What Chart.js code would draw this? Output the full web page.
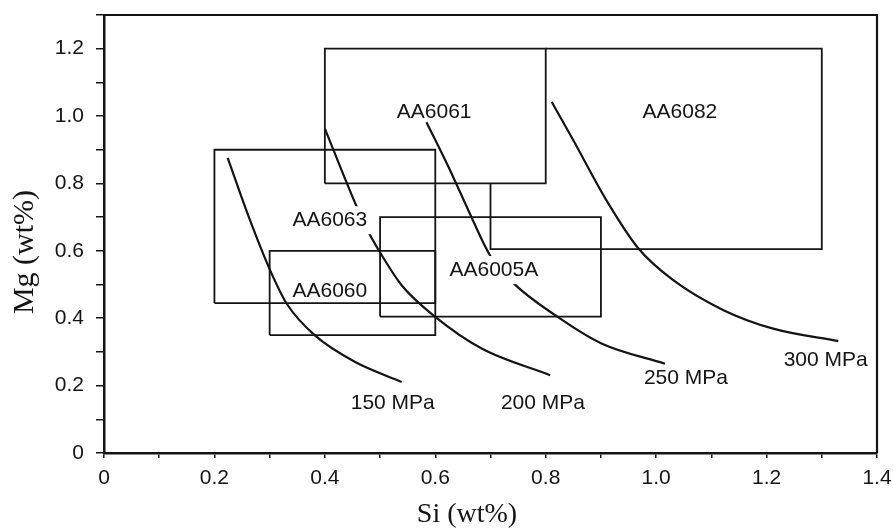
<!DOCTYPE html>
<html>
<head>
<meta charset="utf-8">
<script src="https://cdn.jsdelivr.net/npm/chart.js@4.4.0/dist/chart.umd.min.js"></script>
<style>
  html, body { margin: 0; padding: 0; background: #fff; }
</style>
</head>
<body>
<canvas id="grafico" width="893" height="532"></canvas>
<script>
// Cajas de composición (Si, Mg en wt%), contorno de cada aleación
const aleaciones = ['AA6060', 'AA6063', 'AA6005A', 'AA6061', 'AA6082'];
const contornoSi = [
  [0.3, 0.6, 0.6, 0.3, 0.3],
  [0.2, 0.6, 0.6, 0.2, 0.2],
  [0.5, 0.9, 0.9, 0.5, 0.5],
  [0.4, 0.8, 0.8, 0.4, 0.4],
  [0.7, 0.7, 1.3, 1.3, 0.8]
];
const contornoMg = [
  [0.35, 0.35, 0.6, 0.6, 0.35],
  [0.445, 0.445, 0.9, 0.9, 0.445],
  [0.405, 0.405, 0.7, 0.7, 0.405],
  [0.8, 0.8, 1.2, 1.2, 0.8],
  [0.8, 0.605, 0.605, 1.2, 1.2]
];

// Curvas de resistencia
const si150 = [0.224, 0.261, 0.301, 0.331, 0.382, 0.455, 0.539];
const mg150 = [0.876, 0.706, 0.542, 0.443, 0.349, 0.270, 0.211];
const si200 = [0.400, 0.458, 0.479, 0.503, 0.539, 0.600, 0.684, 0.808];
const mg200 = [0.963, 0.730, 0.656, 0.587, 0.498, 0.404, 0.310, 0.231];
const si250 = [0.584, 0.624, 0.660, 0.699, 0.741, 0.817, 0.901, 1.016];
const mg250 = [0.982, 0.849, 0.720, 0.587, 0.505, 0.409, 0.325, 0.265];
const si300 = [0.811, 0.850, 0.910, 0.968, 1.031, 1.122, 1.212, 1.330];
const mg300 = [1.042, 0.928, 0.750, 0.607, 0.513, 0.424, 0.369, 0.332];

// Etiquetas de ejes
const xTickLabels = ['0', '0.2', '0.4', '0.6', '0.8', '1.0', '1.2', '1.4'];
const yTickLabels = ['0', '0.2', '0.4', '0.6', '0.8', '1.0', '1.2'];

// Textos dentro del gráfico
const textos = ['AA6061', 'AA6082', 'AA6063', 'AA6060', 'AA6005A', '150 MPa', '200 MPa', '250 MPa', '300 MPa'];
const textoSi = [0.598, 1.043, 0.409, 0.409, 0.706, 0.523, 0.795, 1.054, 1.307];
const textoMg = [1.012, 1.012, 0.691, 0.481, 0.543, 0.149, 0.148, 0.221, 0.275];
const conHueco = [false, false, true, false, true, false, false, false, false];

const negro = '#141414';
const fuente = '"Liberation Sans", Arial, sans-serif';
const fuenteSerif = '"Liberation Serif", "Times New Roman", serif';

function puntos(xs, ys) {
  return xs.map((v, i) => ({ x: v, y: ys[i] }));
}

const datasets = [];
aleaciones.forEach((nombre, i) => {
  datasets.push({
    label: nombre,
    data: puntos(contornoSi[i], contornoMg[i]),
    borderColor: negro,
    borderWidth: 1.8,
    tension: 0
  });
});
[[si150, mg150], [si200, mg200], [si250, mg250], [si300, mg300]].forEach(c => {
  datasets.push({
    data: puntos(c[0], c[1]),
    borderColor: negro,
    borderWidth: 2.2,
    cubicInterpolationMode: 'monotone'
  });
});

const etiquetas = {
  id: 'etiquetas',
  afterDatasetsDraw(chart) {
    const { ctx, chartArea, scales: { x, y } } = chart;
    ctx.save();
    ctx.font = '21px ' + fuente;
    ctx.textAlign = 'center';
    ctx.textBaseline = 'middle';
    textos.forEach((t, i) => {
      const px = x.getPixelForValue(textoSi[i]);
      const py = y.getPixelForValue(textoMg[i]);
      if (conHueco[i]) {
        const w = ctx.measureText(t).width;
        ctx.fillStyle = '#fff';
        ctx.fillRect(px - w / 2 - 5, py - 14, w + 10, 28);
      }
      ctx.fillStyle = negro;
      ctx.fillText(t, px, py);
    });
    // marco superior y derecho
    ctx.strokeStyle = negro;
    ctx.lineWidth = 2.2;
    ctx.beginPath();
    ctx.moveTo(chartArea.left, chartArea.top);
    ctx.lineTo(chartArea.right, chartArea.top);
    ctx.lineTo(chartArea.right, chartArea.bottom);
    ctx.stroke();
    // títulos de ejes
    ctx.fillStyle = negro;
    ctx.font = '28px ' + fuenteSerif;
    ctx.fillText('Si (wt%)', 467, 515);
    ctx.translate(25, 252);
    ctx.rotate(-Math.PI / 2);
    ctx.font = '30px ' + fuenteSerif;
    ctx.fillText('Mg (wt%)', 0, 0);
    ctx.restore();
  }
};

new Chart(document.getElementById('grafico'), {
  type: 'scatter',
  data: { datasets: datasets },
  options: {
    responsive: false,
    animation: false,
    showLine: true,
    elements: { point: { radius: 0 } },
    layout: { padding: { top: 15, right: 16, left: 0, bottom: 0 } },
    plugins: { legend: { display: false }, tooltip: { enabled: false } },
    scales: {
      x: {
        type: 'linear',
        min: 0,
        max: 1.4,
        afterFit: s => { s.height = 79; s.paddingLeft = 0; s.paddingRight = 0; },
        grid: { drawOnChartArea: false, tickLength: 5, color: negro, lineWidth: 1.5 },
        border: { color: negro, width: 2.5 },
        ticks: {
          stepSize: 0.1,
          autoSkip: false,
          maxRotation: 0,
          padding: 8,
          color: negro,
          font: { family: fuente, size: 21 },
          callback: v => {
            const k = Math.round(v * 10);
            return k % 2 === 0 ? xTickLabels[k / 2] : '';
          }
        }
      },
      y: {
        type: 'linear',
        min: 0,
        max: 1.3,
        afterFit: s => { s.width = 104; s.paddingTop = 0; s.paddingBottom = 0; },
        grid: { drawOnChartArea: false, tickLength: 8, color: negro, lineWidth: 1.5 },
        border: { color: negro, width: 2.5 },
        ticks: {
          stepSize: 0.1,
          autoSkip: false,
          padding: 12,
          color: negro,
          font: { family: fuente, size: 21 },
          callback: v => {
            const k = Math.round(v * 10);
            return (k % 2 === 0 && k <= 12) ? yTickLabels[k / 2] : '';
          }
        }
      }
    }
  },
  plugins: [etiquetas]
});
</script>
</body>
</html>
